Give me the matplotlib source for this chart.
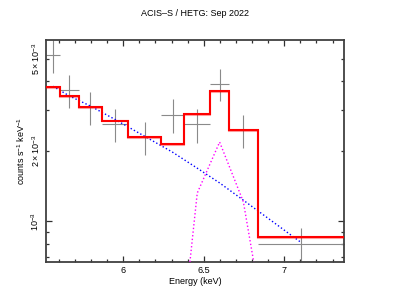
import matplotlib
matplotlib.use('Agg')
import matplotlib.pyplot as plt
import matplotlib.patheffects as pe
import numpy as np
from matplotlib.ticker import FixedLocator, NullFormatter

plt.rcParams['font.family'] = ['Liberation Sans', 'DejaVu Sans']
plt.rcParams['mathtext.fontset'] = 'custom'
plt.rcParams['mathtext.rm'] = 'Liberation Sans'
plt.rcParams['mathtext.it'] = 'Liberation Sans'

# bin edges (keV)
edges = [5.52, 5.607, 5.725, 5.868, 6.031, 6.234, 6.379, 6.540, 6.657, 6.835, 7.371]
# data (counts s^-1 keV^-1)
data = [5.19e-3, 3.67e-3, 3.09e-3, 2.62e-3, 2.30e-3, 2.87e-3, 2.61e-3, 3.90e-3, 2.47e-3, 0.80e-3]
err = [0.84e-3, 0.60e-3, 0.50e-3, 0.42e-3, 0.37e-3, 0.48e-3, 0.43e-3, 0.61e-3, 0.40e-3, 0.13e-3]
# total model
model = [3.79e-3, 3.47e-3, 3.09e-3, 2.71e-3, 2.31e-3, 2.15e-3, 2.90e-3, 3.63e-3, 2.47e-3, 0.856e-3]
# components
cont = [3.81e-3, 3.46e-3, 3.13e-3, 2.74e-3, 2.32e-3, 1.98e-3, 1.69e-3, 1.46e-3, 1.23e-3, 0.81e-3]
gauss = [1e-9, 1e-8, 1e-7, 2e-6, 1.5e-5, 1.32e-4, 1.32e-3, 2.19e-3, 1.21e-3, 4.4e-5]

ymin, ymax = 6.66e-4, 6.03e-3

edges = np.array(edges)
centers = (edges[:-1] + edges[1:]) / 2
halfw = (edges[1:] - edges[:-1]) / 2

fig = plt.figure(figsize=(4.15, 2.94), dpi=100)
ax = fig.add_axes([0.1108, 0.1088, 0.7181, 0.7551])

ax.errorbar(centers, data, xerr=halfw, yerr=err, fmt='none', ecolor='#8a8a8a',
            elinewidth=0.8, capsize=0, zorder=2)
ax.stairs(model, edges, baseline=None, color='red', lw=1.5, zorder=4,
          path_effects=[pe.SimpleLineShadow(offset=(0, -0.6), shadow_color='red', alpha=0.35),
                        pe.Normal()])
ax.plot(centers, cont, ls=':', color='blue', lw=1.0, zorder=3)
ax.plot(centers, gauss, ls=':', color='#ff00ff', lw=1.0, zorder=3)

ax.set_yscale('log')
ax.set_xlim(5.52, 7.371)
ax.set_ylim(ymin, ymax)

ax.xaxis.set_major_locator(FixedLocator([6, 6.5, 7]))
ax.xaxis.set_minor_locator(FixedLocator(np.arange(5.6, 7.35, 0.1)))
ax.set_xticklabels(['6', '6.5', '7'])

ax.yaxis.set_major_locator(FixedLocator([1e-3]))
ax.yaxis.set_minor_locator(FixedLocator([7e-4, 8e-4, 9e-4, 2e-3, 3e-3, 4e-3, 5e-3]))
ax.yaxis.set_minor_formatter(NullFormatter())
ax.set_yticklabels(['$10^{-3}$'])
for v, s in [(2e-3, r'$2\times10^{-3}$'), (5e-3, r'$5\times10^{-3}$')]:
    ax.text(-0.012, np.log10(v / ymin) / np.log10(ymax / ymin), s,
            transform=ax.transAxes, rotation=90, ha='right', va='center', fontsize=6.5)
for lab in ax.get_yticklabels():
    lab.set_rotation(90)
    lab.set_va('center')

ax.tick_params(which='both', direction='in', top=True, right=True, labelsize=6.5,
               color='#303030')
ax.tick_params(axis='x', pad=3)
ax.tick_params(axis='y', pad=3.6)
ax.tick_params(which='major', length=4, width=0.9)
ax.tick_params(which='minor', length=2.5, width=0.9)
for s in ax.spines.values():
    s.set_linewidth(1.3)
    s.set_color('#404040')

ax.set_xlabel('Energy (keV)', fontsize=6.5, labelpad=1)
ax.set_ylabel('counts s$^{-1}$ keV$^{-1}$', fontsize=6.5)
ax.yaxis.set_label_coords(-0.064, 0.5)
ax.set_title('ACIS\u2013S / HETG: Sep 2022', fontsize=6.5, pad=17)

fig.savefig('out.png', dpi=100)
